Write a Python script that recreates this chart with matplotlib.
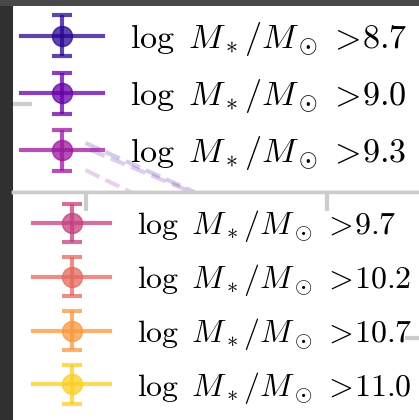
import matplotlib
matplotlib.use("Agg")
import matplotlib.pyplot as plt
import numpy as np
from matplotlib.container import ErrorbarContainer
from matplotlib.legend_handler import HandlerErrorbar
from matplotlib.patches import Rectangle

plt.rcParams["mathtext.fontset"] = "cm"

# stellar-mass thresholds for each selection (log M*/Msun)
mass_cuts = [8.7, 9.0, 9.3, 9.7, 10.2, 10.7, 11.0]
cmap_pos = np.linspace(0.05, 0.9, len(mass_cuts))
n_top = 3                                   # first three cuts go in the upper panel legend

# faint dashed model tracks in the upper panel (x, y)
track_x = [[1.00, 1.45], [1.02, 1.49], [1.00, 1.23]]
track_y = [[0.56, 0.00], [0.48, -0.06], [0.25, -0.06]]

W, H = 419, 420
fig = plt.figure(figsize=(W / 100, H / 100), dpi=100, facecolor="#303030")


def px_rect(x0, y0, x1, y1):
    return [x0 / W, 1 - y1 / H, (x1 - x0) / W, (y1 - y0) / H]


grey = "#cccccc"
ax_top = fig.add_axes(px_rect(13, 6, 424, 192))
ax_bot = fig.add_axes(px_rect(13, 192, 424, 484))

ax_top.spines["top"].set_visible(False)
ax_top.set_ylim(0, 2.125)
ax_top.set_xticks([])
ax_top.set_yticks([1.0])

ax_bot.set_ylim(0, 1)
ax_bot.xaxis.set_ticks_position("top")
ax_bot.yaxis.set_ticks_position("right")
ax_bot.set_xticks([1.0, 2.0])
ax_bot.set_yticks([0.5])

for ax in (ax_top, ax_bot):
    ax.set_xlim(0.7, 2.4)
    for side in ("left", "top", "right", "bottom"):
        ax.spines[side].set_color(grey)
        ax.spines[side].set_linewidth(2.5)
    ax.spines["left"].set_visible(False)
    ax.tick_params(which="both", direction="in", color=grey, width=3,
                   length=14, labelleft=False, labelbottom=False,
                   labeltop=False, labelright=False)

cmap = plt.get_cmap("plasma")
for xs, ys, c in zip(track_x, track_y, cmap_pos[:3]):
    ax_top.plot(xs, ys, "--", color=cmap(c), lw=3, alpha=0.2)

handles = []
for m, c in zip(mass_cuts, cmap_pos):
    eb = ax_bot.errorbar([np.nan], [np.nan], yerr=[np.nan], fmt="-o",
                         color=cmap(c), alpha=0.75, lw=3, elinewidth=3,
                         capsize=7.2, capthick=3, markersize=14.4,
                         label=rf"$\log\ M_*/M_\odot\,{{>}}\!{m}$")
    handles.append(eb)


def legend_at(ax, hs, fs, x_px, y_px, handle_px, bar_px, pad_px, spacing):
    f_px = fs * 100 / 72
    return ax.legend(handles=hs, fontsize=fs, frameon=False, borderpad=0,
                     borderaxespad=0, numpoints=1, loc="upper left",
                     handlelength=handle_px / f_px,
                     handletextpad=pad_px / f_px, labelspacing=spacing,
                     handler_map={ErrorbarContainer:
                                  HandlerErrorbar(xerr_size=bar_px / f_px)},
                     bbox_to_anchor=(x_px / W, 1 - y_px / H),
                     bbox_transform=fig.transFigure)


legend_at(ax_top, handles[:n_top], 24.6, 21, 19.5, 82, 20.5, 27, 0.57)
legend_at(ax_bot, handles[n_top:], 23.0, 33, 208.0, 77, 19.25, 27, 0.56)

# darker band along the top edge
fig.patches.append(Rectangle((0, 1 - 6 / H), 1, 6 / H, transform=fig.transFigure,
                             facecolor="#484848", edgecolor="none", zorder=10))

fig.savefig("out.png", dpi=100, facecolor=fig.get_facecolor())
